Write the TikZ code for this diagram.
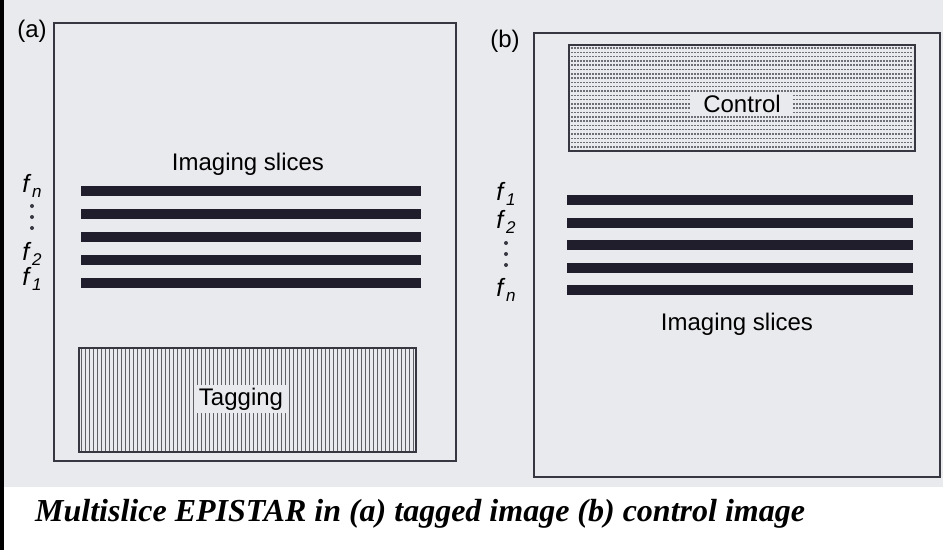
\documentclass[tikz,border=0pt]{standalone}
\usepackage{fontspec}
\setmainfont{Liberation Serif}
\newfontfamily\arialf{Liberation Sans}
\definecolor{photobg}{RGB}{233,234,238}
\definecolor{framecol}{RGB}{55,55,65}
\definecolor{barcol}{RGB}{32,29,44}
\definecolor{hatchcol}{RGB}{95,95,102}
\definecolor{dotcol}{RGB}{110,110,118}
\newcommand{\fsub}[1]{\textit{f}\kern0.5pt\raisebox{-5pt}{\fontsize{17}{17}\selectfont\itshape #1}}
\begin{document}
\begin{tikzpicture}[x=1pt,y=-1pt,
  slicebar/.style={fill=barcol,draw=none},
  frame/.style={draw=framecol,line width=1.6pt},
  inframe/.style={draw=framecol,line width=1.2pt},
  lbl/.style={font=\arialf\fontsize{24}{28}\selectfont,inner sep=0pt,anchor=base},
  flbl/.style={font=\arialf\fontsize{25}{28}\selectfont,inner sep=0pt,anchor=base},
  vdot/.style={circle,fill=framecol,inner sep=0pt,minimum size=4pt},
  hatch/.style={draw=hatchcol,line width=0.9pt},
  stip/.style={draw=dotcol,line width=1.5pt,dash pattern=on 1.7pt off 1.3pt},
  patch/.style={fill=photobg,inner sep=3pt},
]
\useasboundingbox (0,0) rectangle (948,550);
\fill[white] (0,0) rectangle (948,550);
\fill[photobg] (4,0) rectangle (943,487);
\fill[black] (0,0) rectangle (4,550);

% ---------- panel (a) ----------
\node[lbl] (la) at (32,37) {(a)};
\coordinate (a1) at (54,23);
\coordinate (a2) at (456,461);
\draw[frame] (a1) rectangle (a2);
\node[lbl] (isa) at (248,170) {Imaging slices};
\foreach \y [count=\i] in {191,214,237,260,283}
  \fill[slicebar] (81,\y-5) rectangle (421,\y+5);
\node[flbl] (fna) at (32,192) {\fsub{n}};
\node[vdot] (da1) at (32,206) {};
\node[vdot] (da2) at (32,217) {};
\node[vdot] (da3) at (32,228) {};
\node[flbl] (f2a) at (32,260) {\fsub{2}};
\node[flbl] (f1a) at (32,285) {\fsub{1}};
% tagging box
\foreach \x in {81,85,...,414}
  \draw[hatch] (\x,349) -- (\x,451);
\draw[inframe] (79,348) rectangle (416,452);
\node[lbl,patch] (tag) at (241,405) {Tagging};

% ---------- panel (b) ----------
\node[lbl] (lb) at (505,47) {(b)};
\coordinate (b1) at (534,33);
\coordinate (b2) at (940,477);
\draw[frame] (b1) rectangle (b2);
% control box
\foreach \y in {48,52.3,...,148}
  \draw[stip] (571,\y) -- (913,\y);
\draw[inframe] (569,45) rectangle (915,151);
\node[lbl,patch,inner xsep=12pt] (ctl) at (742,112) {Control};
\foreach \y [count=\i] in {200,222.5,245,267.5,290}
  \fill[slicebar] (567,\y-5) rectangle (913,\y+5);
\node[flbl] (f1b) at (506,200) {\fsub{1}};
\node[flbl] (f2b) at (506,228) {\fsub{2}};
\node[vdot] (db1) at (506,243) {};
\node[vdot] (db2) at (506,254) {};
\node[vdot] (db3) at (506,265) {};
\node[flbl] (fnb) at (506,296) {\fsub{n}};
\node[lbl] (isb) at (737,330) {Imaging slices};

% ---------- caption ----------
\node[anchor=base west,inner sep=0pt,font=\bfseries\itshape\fontsize{32}{36}\selectfont] (cap) at (35,521)
  {Multislice EPISTAR in (a) tagged image (b) control image};
\end{tikzpicture}
\end{document}
